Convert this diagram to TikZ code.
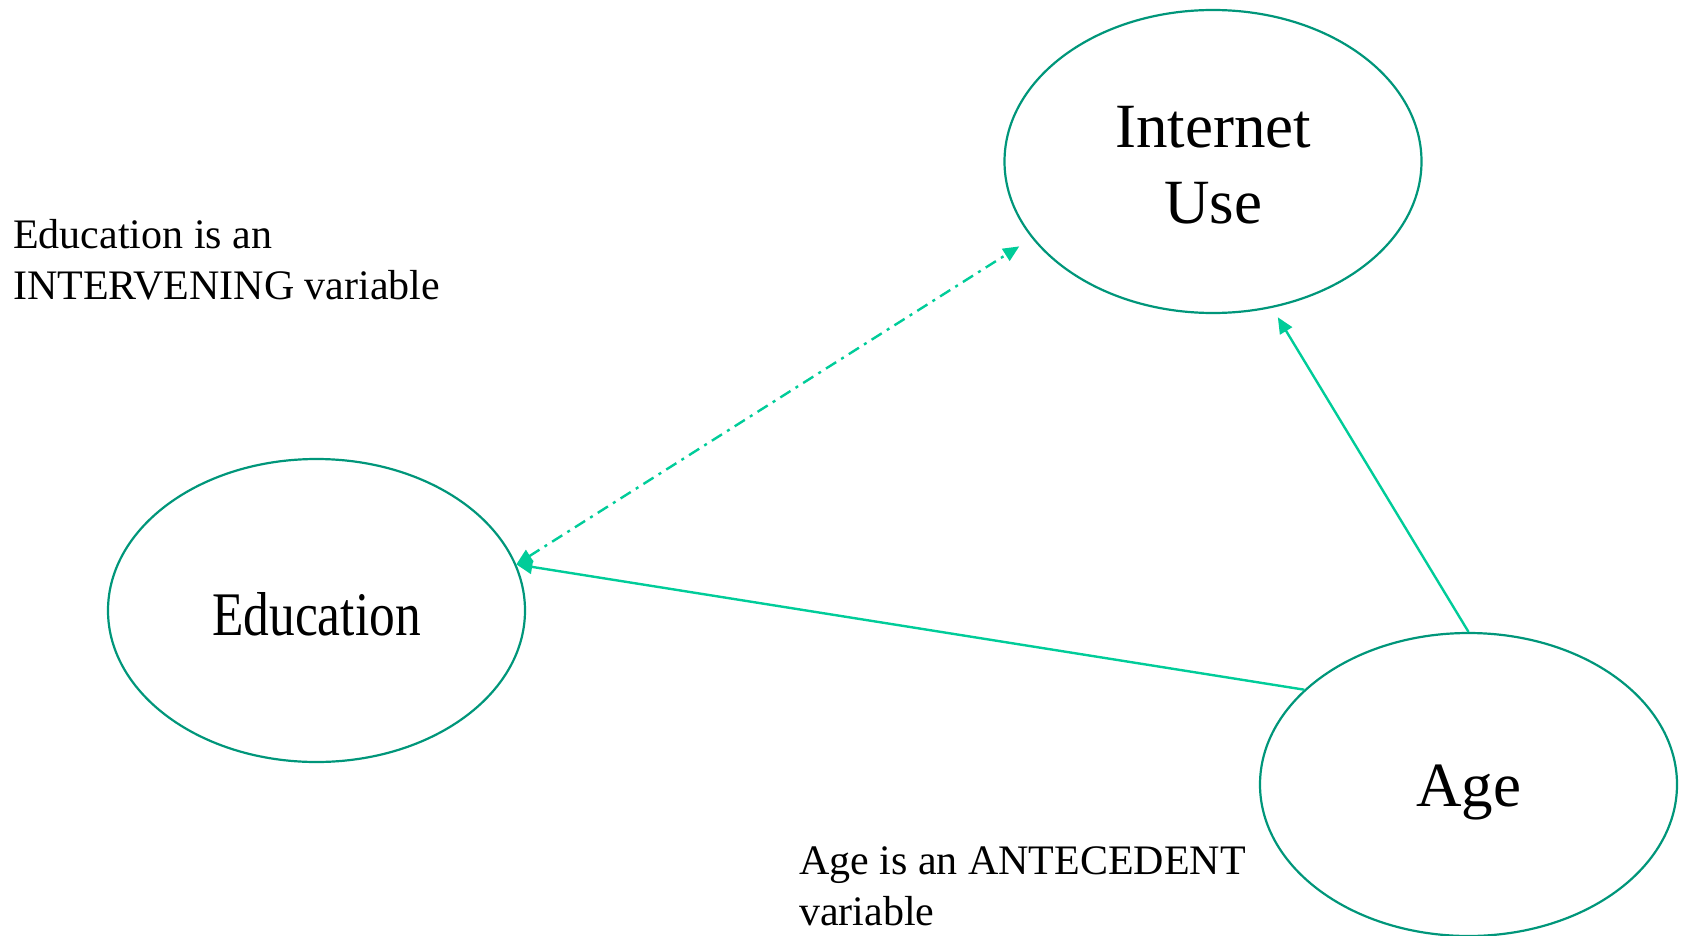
\documentclass[tikz,border=0pt]{standalone}
\usepackage{fontspec}
\usepackage{graphicx}
\setmainfont{Liberation Serif}
\usetikzlibrary{shapes.geometric,arrows.meta}
\definecolor{rim}{HTML}{00967A}
\definecolor{link}{HTML}{00CC99}
\begin{document}
\begin{tikzpicture}[x=1pt,y=-1pt,
  bubble/.style={ellipse,draw=rim,line width=2.2pt,minimum width=417pt,minimum height=303pt,
    inner sep=0pt,font=\fontsize{63}{77}\selectfont,align=center},
  big/.style={font=\fontsize{63}{76}\selectfont,align=center,inner sep=0pt},
  note/.style={font=\fontsize{42}{51}\selectfont,align=left,inner sep=0pt},
  link/.style={draw=link,line width=2.4pt,-{Triangle[length=16pt,width=14pt]}},
  both/.style={link,{Triangle[length=16pt,width=14pt]}-{Triangle[length=16pt,width=14pt]},
    dash pattern=on 12pt off 6pt on 3pt off 6pt}]
\useasboundingbox (0,0) rectangle (1685,936);
% the three variables
\node[bubble] (inet) at (1213,161.5) {};
\node[big,anchor=base] (inettext) at (1213,223) {Internet\\Use};
\node[bubble,text height=50pt,text depth=0pt] (edu) at (316.5,610.5)
  {\fontsize{62}{74}\selectfont\scalebox{0.83}[1]{Education}};
\node[bubble,text height=44pt,text depth=0pt] (age) at (1468.5,784.5) {Age};
% side notes (anchored at the baseline of their last line)
\node[note,anchor=base west] (n1) at (13,299) {Education is an\\INTERVENING variable};
\node[note,anchor=base west] (n2) at (799,925) {Age is an ANTECEDENT\\variable};
% relations
\draw[link,shorten >=11pt] (age.north) -- (inet.-68);
\draw[link] (age.150) -- (edu.13);
\draw[both,shorten >=15pt] (edu.13) -- (inet.203);
\end{tikzpicture}
\end{document}
